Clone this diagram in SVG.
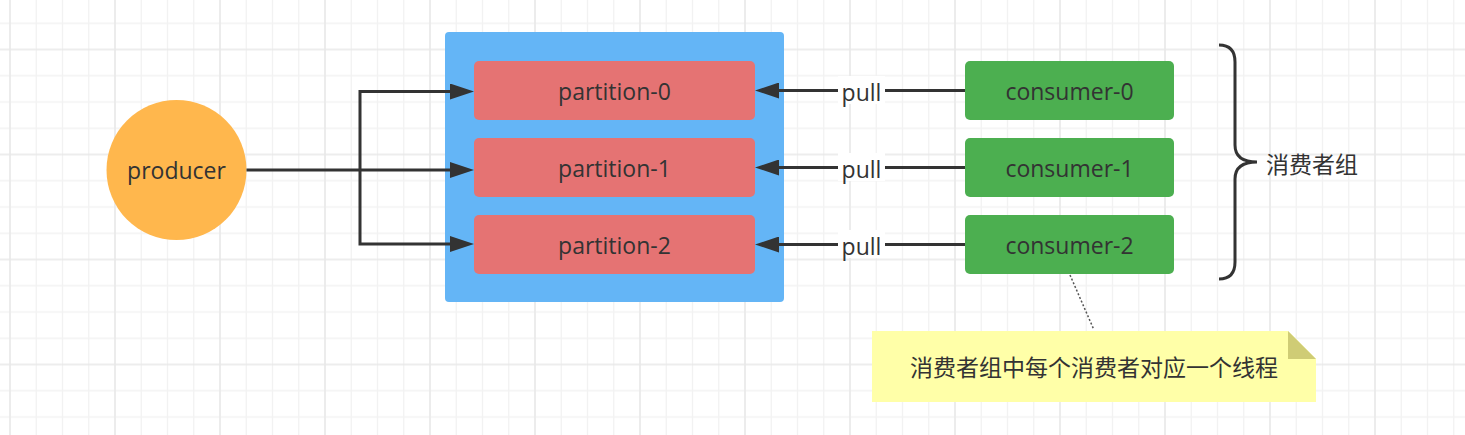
<svg xmlns="http://www.w3.org/2000/svg" width="1465" height="435" viewBox="0 0 1465 435">
<defs>
<pattern id="grid" x="-3" y="36.5" width="105" height="105" patternUnits="userSpaceOnUse">
<path d="M39.25,0V105M65.5,0V105M91.75,0V105M0,39.25H105M0,65.5H105M0,91.75H105" stroke="#f2f2f2" stroke-width="1.3" fill="none"/>
<path d="M13,0V105M0,13H105" stroke="#e8e8e8" stroke-width="1.6" fill="none"/>
</pattern>
<marker id="ah" viewBox="0 0 24 16" refX="4" refY="8" markerWidth="24" markerHeight="16" orient="auto" markerUnits="userSpaceOnUse">
<path d="M0,0 L24,8 L0,16 z" fill="#333333"/>
</marker>
<style>
.lbl{font-family:"Open Sans","Noto Sans CJK SC",sans-serif;font-size:23px;fill:#333333;text-anchor:middle}
.cjk{font-family:"Noto Sans CJK SC",sans-serif;font-size:23px;fill:#333333}
.part{fill:#E57373}
.cons{fill:#4CAF50}
.edge{stroke:#333333;stroke-width:3;fill:none}
</style>
</defs>
<rect width="1465" height="435" fill="#ffffff"/>
<rect width="1465" height="435" fill="url(#grid)"/>

<g id="partitions-container">
<rect x="445" y="32" width="339" height="270" rx="4" fill="#64B5F6"/>
</g>

<g id="producer">
<circle cx="176.5" cy="170" r="70" fill="#FFB74D"/>
<text class="lbl" x="176.5" y="178.5">producer</text>
</g>

<g id="partition-0">
<rect class="part" x="474" y="61" width="281" height="59" rx="5"/>
<text class="lbl" x="614.5" y="100">partition-0</text>
</g>
<g id="partition-1">
<rect class="part" x="474" y="138" width="281" height="59" rx="5"/>
<text class="lbl" x="614.5" y="177">partition-1</text>
</g>
<g id="partition-2">
<rect class="part" x="474" y="215" width="281" height="59" rx="5"/>
<text class="lbl" x="614.5" y="254">partition-2</text>
</g>

<g id="consumer-0">
<rect class="cons" x="965" y="61" width="209" height="59" rx="5"/>
<text class="lbl" x="1069.5" y="99.5">consumer-0</text>
</g>
<g id="consumer-1">
<rect class="cons" x="965" y="138" width="209" height="59" rx="5"/>
<text class="lbl" x="1069.5" y="176.5">consumer-1</text>
</g>
<g id="consumer-2">
<rect class="cons" x="965" y="215" width="209" height="59" rx="5"/>
<text class="lbl" x="1069.5" y="253.5">consumer-2</text>
</g>

<g id="connectors">
<path class="edge" d="M246.5,170 H454" marker-end="url(#ah)"/>
<path class="edge" d="M360,170 V91.5 H454" marker-end="url(#ah)"/>
<path class="edge" d="M360,170 V244 H454" marker-end="url(#ah)"/>
<path class="edge" d="M965,90.5 H775" marker-end="url(#ah)"/>
<path class="edge" d="M965,167.5 H775" marker-end="url(#ah)"/>
<path class="edge" d="M965,244.5 H775" marker-end="url(#ah)"/>
<rect x="838" y="76" width="47" height="28" fill="#ffffff"/>
<rect x="838" y="153" width="47" height="28" fill="#ffffff"/>
<rect x="838" y="230" width="47" height="28" fill="#ffffff"/>
<text class="lbl" x="861.5" y="100.5">pull</text>
<text class="lbl" x="861.5" y="177.5">pull</text>
<text class="lbl" x="861.5" y="254.5">pull</text>
<path d="M1070,275 L1094,330" stroke="#555555" stroke-width="1.5" stroke-dasharray="2,2" fill="none"/>
</g>

<g id="consumer-group">
<path d="M1219,45 Q1235,45 1235,62 V145 Q1235,162 1257,162 Q1235,162 1235,179 V262 Q1235,279 1219,279" stroke="#333333" stroke-width="3" fill="none"/>
<text class="cjk" x="1266" y="172.5">消费者组</text>
</g>

<g id="note">
<path d="M872,331 H1288 L1316,359 V402 H872 Z" fill="#FFFFA8"/>
<path d="M1288,331 L1316,359 H1288 Z" fill="#CFCC75"/>
<text class="cjk" x="1094" y="376" text-anchor="middle">消费者组中每个消费者对应一个线程</text>
</g>
</svg>
